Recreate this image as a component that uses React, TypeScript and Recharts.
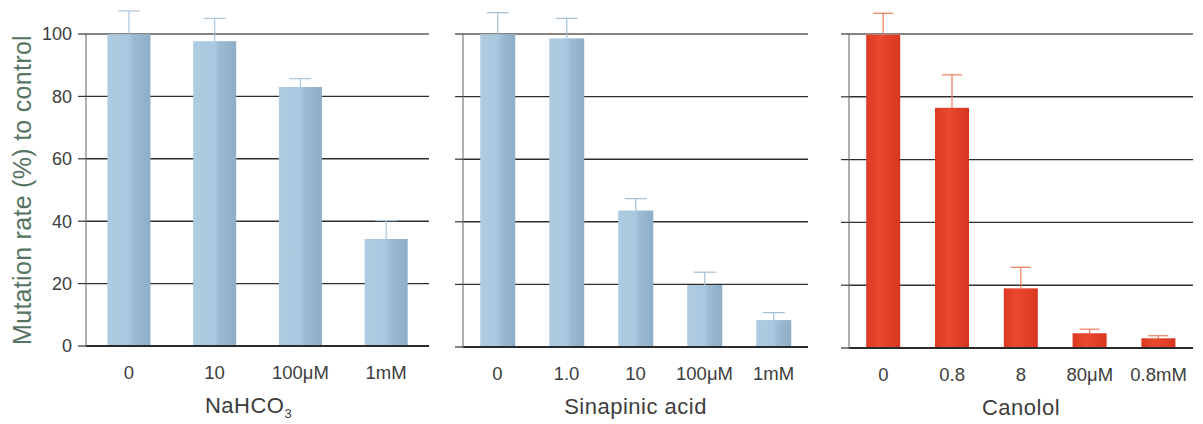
import React from 'react'
import { Bar, BarChart, CartesianGrid, ReferenceLine, XAxis, YAxis } from 'recharts'

// values (mutation rate, % of control)
const nahco3Doses = ['0', '10', '100μM', '1mM']
const nahco3Rates = [100, 97.7, 83, 34.3]
const nahco3Errors = [7.4, 7.3, 2.7, 5.9]

const sinapinicDoses = ['0', '1.0', '10', '100μM', '1mM']
const sinapinicRates = [100, 98.6, 43.6, 19.8, 8.6]
const sinapinicErrors = [6.8, 6.4, 3.8, 4.1, 2.4]

const canololDoses = ['0', '0.8', '8', '80μM', '0.8mM']
const canololRates = [100, 76.5, 19, 4.7, 3.1]
const canololErrors = [6.6, 10.5, 6.7, 1.3, 0.8]

const yTicks = [0, 20, 40, 60, 80, 100]

const FONT = '"Liberation Sans", Arial, sans-serif'
const TEXT = '#3d3d3d'

function toRows(doses: string[], rates: number[], errors: number[]) {
    return doses.map((dose, i) => ({ dose, rate: rates[i], err: errors[i] }))
}

// bar with a one-sided (upper) error whisker, scaled from the bar's own pixel height
function barWithError(fill: string, errColor: string, capHalf: number) {
    return (props: any) => {
        const { x, y, width, height, payload } = props
        const perUnit = height / payload.rate
        const top = y - payload.err * perUnit
        const cx = x + width / 2
        return (
            <g>
                <rect x={x} y={y} width={width} height={height} fill={fill} />
                <line x1={cx} y1={y} x2={cx} y2={top} stroke={errColor} strokeWidth={1.2} />
                <line x1={cx - capHalf} y1={top} x2={cx + capHalf} y2={top} stroke={errColor} strokeWidth={1.2} />
            </g>
        )
    }
}

function DoseTick(props: any) {
    const { x, y, payload } = props
    return (
        <text x={x} y={y} dy="0.71em" textAnchor="middle" fontFamily={FONT} fontSize={18.5} fill={TEXT}>
            {payload.value}
        </text>
    )
}

function RateTick(props: any) {
    const { x, y, payload } = props
    return (
        <text x={x} y={y} dy="0.36em" textAnchor="end" fontFamily={FONT} fontSize={18} fill={TEXT}>
            {payload.value}
        </text>
    )
}

function NoTick() {
    return <g />
}

function YTitle(props: any) {
    const vb = props.viewBox || { x: 0, y: 0, height: 0 }
    const cx = vb.x + 22
    const cy = vb.y + vb.height / 2
    return (
        <text
            x={cx}
            y={cy}
            transform={`rotate(-90, ${cx}, ${cy})`}
            textAnchor="middle"
            dominantBaseline="central"
            fontFamily={FONT}
            fontSize={25}
            fill="#567463"
            letterSpacing={0.3}
        >
            Mutation rate (%) to control
        </text>
    )
}

function XTitle(props: any) {
    const vb = props.viewBox || { x: 0, y: 0, width: 0 }
    const cx = vb.x + vb.width / 2 + (props.dx || 0)
    const y = vb.y + 67
    return (
        <text x={cx} y={y} textAnchor="middle" fontFamily={FONT} fontSize={22} fill={TEXT} letterSpacing={0.5}>
            {props.text}
            {props.sub ? (
                <tspan fontSize={13} dy={5}>
                    {props.sub}
                </tspan>
            ) : null}
        </text>
    )
}

interface PanelProps {
    rows: { dose: string; rate: number; err: number }[]
    width: number
    left: number
    yAxisWidth: number
    right: number
    xAxisHeight: number
    showYLabels: boolean
    fill: string
    errColor: string
    capHalf: number
    title: string
    sub?: string
    titleDx?: number
}

function Panel(p: PanelProps) {
    return (
        <div style={{ position: 'absolute', left: p.left, top: 0 }}>
            <BarChart
                width={p.width}
                height={424}
                data={p.rows}
                margin={{ top: 34, right: p.right, left: 0, bottom: 0 }}
                barCategoryGap="25%"
            >
                <defs>
                    <linearGradient id="blueBar" x1="0" y1="0" x2="1" y2="0">
                        <stop offset="0%" stopColor="#aecbe1" />
                        <stop offset="50%" stopColor="#a9c7de" />
                        <stop offset="60%" stopColor="#9dbbd3" />
                        <stop offset="100%" stopColor="#8eadc6" />
                    </linearGradient>
                    <linearGradient id="redBar" x1="0" y1="0" x2="1" y2="0">
                        <stop offset="0%" stopColor="#dc3a22" />
                        <stop offset="40%" stopColor="#ea4a2f" />
                        <stop offset="100%" stopColor="#d93621" />
                    </linearGradient>
                </defs>
                <CartesianGrid horizontal vertical={false} stroke="#2e2e2e" strokeWidth={1.4} />
                <ReferenceLine y={100} stroke="#a8a8a8" strokeWidth={1.2} />
                <XAxis
                    dataKey="dose"
                    height={p.xAxisHeight}
                    axisLine={{ stroke: '#2a2a2a', strokeWidth: 2 }}
                    tickLine={false}
                    tickSize={6}
                    tickMargin={14}
                    tick={<DoseTick />}
                    interval={0}
                    label={<XTitle text={p.title} sub={p.sub} dx={p.titleDx} />}
                />
                <YAxis
                    domain={[0, 100]}
                    ticks={yTicks}
                    width={p.yAxisWidth}
                    axisLine={{ stroke: '#7a7a7a', strokeWidth: 1.2 }}
                    tickLine={{ stroke: '#333', strokeWidth: 1.2 }}
                    tickSize={8}
                    tickMargin={6}
                    tick={p.showYLabels ? <RateTick /> : <NoTick />}
                    label={p.showYLabels ? <YTitle /> : undefined}
                />
                <YAxis
                    yAxisId="frame"
                    orientation="right"
                    domain={[0, 100]}
                    width={0}
                    tick={false}
                    tickLine={false}
                    axisLine={{ stroke: '#9a9a9a', strokeWidth: 1.2 }}
                />
                <Bar dataKey="rate" isAnimationActive={false} shape={barWithError(p.fill, p.errColor, p.capHalf)} />
            </BarChart>
        </div>
    )
}

export default function App() {
    return (
        <div style={{ position: 'absolute', left: 0, top: 0, width: 1203, height: 424, background: '#fff' }}>
            <Panel
                rows={toRows(nahco3Doses, nahco3Rates, nahco3Errors)}
                left={0}
                width={440}
                yAxisWidth={86}
                right={11}
                xAxisHeight={78}
                showYLabels
                fill="url(#blueBar)"
                errColor="#a9c6dc"
                capHalf={11}
                title="NaHCO"
                sub="3"
                titleDx={-9}
            />
            <Panel
                rows={toRows(sinapinicDoses, sinapinicRates, sinapinicErrors)}
                left={440}
                width={380}
                yAxisWidth={23}
                right={12}
                xAxisHeight={77}
                showYLabels={false}
                fill="url(#blueBar)"
                errColor="#a3bfd4"
                capHalf={11}
                title="Sinapinic acid"
            />
            <Panel
                rows={toRows(canololDoses, canololRates, canololErrors)}
                left={820}
                width={383}
                yAxisWidth={29}
                right={10}
                xAxisHeight={76}
                showYLabels={false}
                fill="url(#redBar)"
                errColor="#ee7a5c"
                capHalf={10}
                title="Canolol"
            />
        </div>
    )
}
